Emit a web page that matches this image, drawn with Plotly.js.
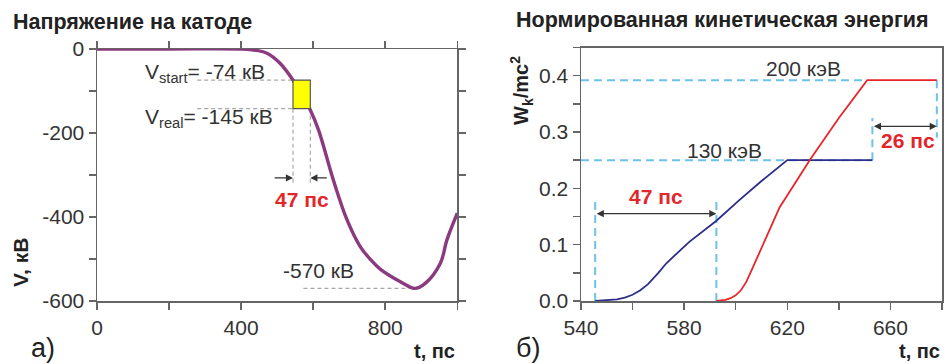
<!DOCTYPE html>
<html><head><meta charset="utf-8">
<script src="https://cdn.plot.ly/plotly-3.0.1.min.js"></script>
<style>html,body{margin:0;padding:0;background:#fff}#c{width:944px;height:364px}</style>
</head><body><div id="c"></div>
<script>
// ---- Panel a: cathode voltage ----
const tV = [0, 200, 395, 430, 472, 508, 544, 568, 592, 615, 656, 694, 731, 760, 786, 842, 883, 911, 953, 971, 1000];
const vV = [0, 0, 0, -2, -10, -34, -74, -108, -145, -193, -312, -407, -471, -502, -524, -554, -570, -558, -510, -455, -391];
const xTicksA = [0, 200, 400, 600, 800, 1000];
const xLabelsA = ['0', '', '400', '', '800', ''];
const yTicksA = [0, -100, -200, -300, -400, -500, -600];
const yLabelsA = ['0', '', '-200', '', '-400', '', '-600'];
const tStart = 544, tReal = 592, vStart = -74, vReal = -142, vMin = -570, tMin = 883;

// ---- Panel b: normalized kinetic energy ----
const tBlue = [545.5, 550, 554, 557, 560, 563, 566, 570, 573.1, 582, 592.4, 601.4, 610, 620, 653];
const wBlue = [0, 0.001, 0.003, 0.006, 0.011, 0.019, 0.03, 0.05, 0.067, 0.105, 0.142, 0.179, 0.213, 0.25, 0.25];
const tRed = [592.5, 596, 598, 600, 602, 604, 606, 609, 613, 617, 623, 629, 640, 651, 678];
const wRed = [0, 0.002, 0.005, 0.01, 0.019, 0.033, 0.053, 0.085, 0.125, 0.166, 0.21, 0.252, 0.325, 0.392, 0.392];
const xTicksB = [540, 560, 580, 600, 620, 640, 660, 680];
const xLabelsB = ['540', '', '580', '', '620', '', '660', ''];
const yTicksB = [0, 0.05, 0.1, 0.15, 0.2, 0.25, 0.3, 0.35, 0.4, 0.45];
const yLabelsB = ['0.0', '', '0.1', '', '0.2', '', '0.3', '', '0.4', ''];
const wLow = 0.25, wHigh = 0.392, tB0 = 545.5, tB1 = 592.5, tFlat = 653, tEnd = 678;

const FONT = 'Liberation Sans, Arial, sans-serif';
const AX = '#666', TXT = '#333';

const traces = [
  {x: tV, y: vV, xaxis: 'x', yaxis: 'y', mode: 'lines', line: {color: '#8B3A80', width: 3.4, shape: 'spline', smoothing: 1}, hoverinfo: 'skip'},
  {x: tBlue, y: wBlue, xaxis: 'x2', yaxis: 'y2', mode: 'lines', line: {color: '#2E2C8C', width: 1.8}, hoverinfo: 'skip'},
  {x: tRed, y: wRed, xaxis: 'x2', yaxis: 'y2', mode: 'lines', line: {color: '#E8262A', width: 1.8}, hoverinfo: 'skip'}
];

function axis(dom, range, tv, tt, anchor, mirror) {
  return {domain: dom, range: range, anchor: anchor, tickmode: 'array', tickvals: tv, ticktext: tt,
    showline: true, linecolor: AX, linewidth: 1.5, mirror: mirror, ticks: 'outside', ticklen: 7,
    tickwidth: 1.5, tickcolor: AX, showgrid: false, zeroline: false,
    tickfont: {family: FONT, size: 21, color: TXT}, fixedrange: true};
}

const gray = {color: '#A8A8A8', width: 1.2, dash: '4px,3px'};
const lblue = {color: '#6EC1EA', width: 2, dash: '8px,5px'};
function seg(xr, yr, x0, y0, x1, y1, line, layer) {
  return {type: 'line', xref: xr, yref: yr, x0: x0, y0: y0, x1: x1, y1: y1, line: line, layer: layer || 'below'};
}

const shapes = [
  seg('x', 'y', 278, vStart, tStart, vStart, gray),
  seg('x', 'y', 278, vReal, tStart, vReal, gray),
  seg('x', 'y', tStart, vReal, tStart, -320, gray),
  seg('x', 'y', tReal, vReal, tReal, -320, gray),
  seg('x', 'y', 573, vMin, tMin, vMin, gray),
  {type: 'rect', xref: 'x', yref: 'y', x0: tStart, x1: tReal, y0: vStart, y1: vReal, fillcolor: '#FFFF00', line: {color: '#555', width: 1.2}, layer: 'above'},
  seg('x2', 'y2', 540, wHigh, 651, wHigh, lblue),
  seg('x2', 'y2', 540, wLow, tFlat, wLow, lblue),
  seg('x2', 'y2', tFlat, wLow, tFlat, 0.325, lblue),
  seg('x2', 'y2', tEnd, wHigh, tEnd, 0.29, lblue),
  seg('x2', 'y2', tB0, 0, tB0, 0.176, lblue),
  seg('x2', 'y2', tB1, 0, tB1, 0.176, lblue)
];

function txt(xr, yr, x, y, text, opts) {
  return Object.assign({xref: xr, yref: yr, x: x, y: y, text: text, showarrow: false,
    font: {family: FONT, size: 21, color: TXT}, xanchor: 'left', yanchor: 'middle'}, opts || {});
}
function arrow(xr, yr, xh, yh, xt, yt, both) {
  return {xref: xr, yref: yr, axref: xr, ayref: yr, x: xh, y: yh, ax: xt, ay: yt, text: '',
    showarrow: true, arrowhead: 2, arrowsize: 1.1, arrowwidth: 1.3, arrowcolor: '#333',
    arrowside: both ? 'end+start' : 'end', startarrowhead: 2, startarrowsize: 1.1, standoff: 0, startstandoff: 0};
}
const RED = '#E3262A';
const annotations = [
  txt('paper', 'paper', 11/944, 1 - 22/364, '<b>Напряжение на катоде</b>', {font: {family: FONT, size: 21.5, color: '#222'}}),
  txt('paper', 'paper', 722/944, 1 - 20/364, '<b>Нормированная кинетическая энергия</b>', {xanchor: 'center', font: {family: FONT, size: 21.5, color: '#222'}}),
  txt('paper', 'paper', 20/944, 1 - 263/364, '<b>V, кВ</b>', {xanchor: 'center', textangle: -90, font: {family: FONT, size: 21, color: '#222'}}),
  txt('paper', 'paper', 521/944, 1 - 91/364, '<b>W<sub>k</sub>/mc<sup>2</sup></b>', {xanchor: 'center', textangle: -90, font: {family: FONT, size: 20, color: '#222'}}),
  txt('paper', 'paper', 457/944, 1 - 351/364, '<b>t, пс</b>', {xanchor: 'right', font: {family: FONT, size: 20, color: '#222'}}),
  txt('paper', 'paper', 942/944, 1 - 351/364, '<b>t, пс</b>', {xanchor: 'right', font: {family: FONT, size: 20, color: '#222'}}),
  txt('paper', 'paper', 29/944, 1 - 348/364, 'а)', {font: {family: FONT, size: 27, color: '#222'}}),
  txt('paper', 'paper', 514/944, 1 - 348/364, 'б)', {font: {family: FONT, size: 27, color: '#222'}}),
  txt('x', 'y', 128, -58, 'V<sub>start</sub>= -74 кВ'),
  txt('x', 'y', 128, -165, 'V<sub>real</sub>= -145 кВ'),
  txt('x', 'y', 512, -527, '-570 кВ'),
  txt('x', 'y', 568, -358, '<b>47 пс</b>', {xanchor: 'center', font: {family: FONT, size: 21, color: RED}}),
  arrow('x', 'y', tStart, -307, 489, -307),
  arrow('x', 'y', tReal, -307, 642, -307),
  txt('x2', 'y2', 626.4, 0.413, '200 кэВ', {xanchor: 'center'}),
  txt('x2', 'y2', 595.8, 0.268, '130 кэВ', {xanchor: 'center'}),
  txt('x2', 'y2', 569, 0.186, '<b>47 пс</b>', {xanchor: 'center', font: {family: FONT, size: 21, color: RED}}),
  txt('x2', 'y2', 666.7, 0.285, '<b>26 пс</b>', {xanchor: 'center', font: {family: FONT, size: 21, color: RED}}),
  arrow('x2', 'y2', tB1, 0.155, tB0, 0.155, true),
  arrow('x2', 'y2', tEnd, 0.31, tFlat, 0.31, true)
];

const layout = {
  width: 944, height: 364, margin: {l: 0, r: 0, t: 0, b: 0},
  paper_bgcolor: '#fff', plot_bgcolor: '#fff', showlegend: false,
  xaxis: axis([97/944, 457.3/944], [0, 1000], xTicksA, xLabelsA, 'y', 'ticks'),
  yaxis: axis([1 - 301/364, 1 - 49/364], [-600, 0], yTicksA, yLabelsA, 'x', 'ticks'),
  xaxis2: axis([581/944, 942/944], [540, 680], xTicksB, xLabelsB, 'y2', true),
  yaxis2: axis([1 - 301/364, 1 - 47.5/364], [0, 0.45], yTicksB, yLabelsB, 'x2', true),
  shapes: shapes, annotations: annotations
};
Plotly.newPlot('c', traces, layout, {displayModeBar: false, staticPlot: true});
</script></body></html>
